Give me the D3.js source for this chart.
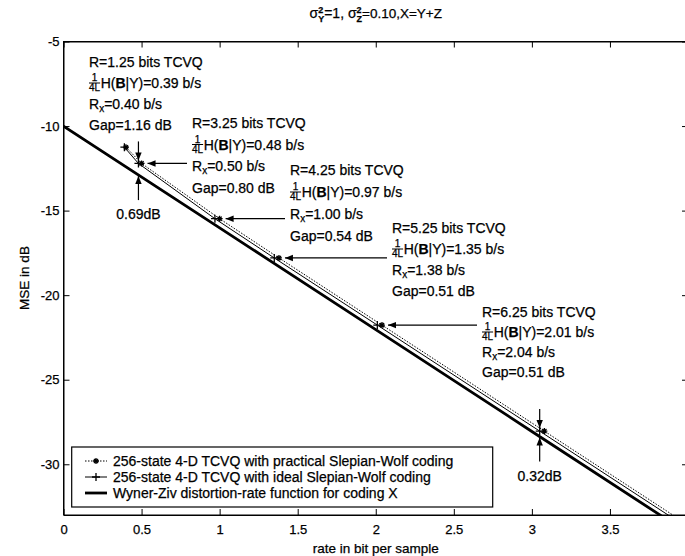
<!DOCTYPE html>
<html><head><meta charset="utf-8">
<script src="https://cdn.jsdelivr.net/npm/d3@7"></script>
<style>
body{margin:0;background:#fff}
text{font-family:"Liberation Sans",Arial,Helvetica,sans-serif;fill:#000;stroke:#000;stroke-width:0.25px}
</style></head><body><svg id="c" width="685" height="556"></svg>
<script>
// ---------- data ----------
const xTicks=[0,0.5,1,1.5,2,2.5,3,3.5,4];
const xTickLabels=["0","0.5","1","1.5","2","2.5","3","3.5",""];
const yTicks=[-5,-10,-15,-20,-25,-30];
const yTickLabels=["-5","-10","-15","-20","-25","-30"];
const wzRate=[0,1,2,3,4];
const wzMSE=[-10,-16.02,-22.04,-28.06,-34.08];
const practicalRate=[0.40,0.50,1.00,1.38,2.04,3.08,4.08];
const idealRate=[0.39,0.48,0.97,1.35,2.01,3.05,4.05];
const tcvqMSE=[-11.25,-12.21,-15.48,-17.80,-21.77,-28.04,-34.07];
const codeRate=[1.25,3.25,4.25,5.25,6.25];
const hRate=[0.39,0.48,0.97,1.35,2.01];
const rxRate=[0.40,0.50,1.00,1.38,2.04];
const gapDB=[1.16,0.80,0.54,0.51,0.51];
const gapMarkRate=[0.48,3.05];
const gapMarkUpper=[-12.21,-28.04];
const gapMarkDB=[0.69,0.32];
const legendLabels=["256-state 4-D TCVQ with practical Slepian-Wolf coding",
  "256-state 4-D TCVQ with ideal Slepian-Wolf coding",
  "Wyner-Ziv distortion-rate function for coding X"];
const xLabel="rate in bit per sample", yLabel="MSE in dB";

// ---------- layout ----------
const L=63.5,R=688,T=41.5,B=515;
const x=d3.scaleLinear([0,4],[L,R]);
const y=d3.scaleLinear([-33,-5],[B,T]);
const svg=d3.select("#c");
svg.append("rect").attr("width",685).attr("height",556).attr("fill","#fff");
svg.append("clipPath").attr("id","clip").append("rect")
  .attr("x",L).attr("y",T).attr("width",R-L).attr("height",B-T);

// axes
const xf=(d,i)=>xTickLabels[i], yf=(d,i)=>yTickLabels[i];
svg.append("g").attr("transform",`translate(0,${B})`)
  .call(d3.axisBottom(x).tickValues(xTicks).tickFormat(xf).tickSizeInner(-6).tickSizeOuter(0).tickPadding(10));
svg.append("g").attr("transform",`translate(0,${T})`)
  .call(d3.axisTop(x).tickValues(xTicks).tickFormat("").tickSizeInner(-6).tickSizeOuter(0));
svg.append("g").attr("transform",`translate(${L},0)`)
  .call(d3.axisLeft(y).tickValues(yTicks).tickFormat(yf).tickSizeInner(-6).tickSizeOuter(0).tickPadding(4));
svg.append("g").attr("transform",`translate(${R},0)`)
  .call(d3.axisRight(y).tickValues(yTicks).tickFormat("").tickSizeInner(-6).tickSizeOuter(0));
svg.selectAll(".tick text").attr("font-size",13).attr("font-family",'"Liberation Sans",Arial,sans-serif');
svg.selectAll(".tick line,.domain").attr("stroke","#000");
svg.append("rect").attr("x",L).attr("y",T).attr("width",R-L).attr("height",B-T)
  .attr("fill","none").attr("stroke","#000");

// labels
svg.append("text").attr("x",(L+R)/2).attr("y",553).attr("text-anchor","middle").attr("font-size",13.5).text(xLabel);
svg.append("text").attr("transform","translate(29,278) rotate(-90)").attr("text-anchor","middle").attr("font-size",13.5).text(yLabel);

// rich text helper
function rich(g,x0,yb,parts,size){
  let cx=x0;
  parts.forEach(p=>{
    if(p.frac){
      const fs=10;
      const t1=g.append("text").attr("y",yb-7).attr("font-size",fs).text(p.num);
      const t2=g.append("text").attr("x",cx).attr("y",yb+3).attr("font-size",fs).text(p.den);
      const w1=t1.node().getComputedTextLength(), w2=t2.node().getComputedTextLength();
      const w=Math.max(w1,w2);
      t1.attr("x",cx+(w-w1)/2);
      g.append("line").attr("x1",cx).attr("x2",cx+w).attr("y1",yb-5).attr("y2",yb-5).attr("stroke","#000").attr("stroke-width",1);
      cx+=w+0.5;
    } else if(p.sup!==undefined||p.sub!==undefined){
      let w=0;
      if(p.sup!==undefined){const t=g.append("text").attr("x",cx).attr("y",yb-5).attr("font-size",p.fs||9).attr("font-weight","bold").text(p.sup);w=Math.max(w,t.node().getComputedTextLength());}
      if(p.sub!==undefined){const t=g.append("text").attr("x",cx).attr("y",yb+(p.subDy||4)).attr("font-size",p.fs||9).attr("font-weight",p.subBold?"bold":null).text(p.sub);w=Math.max(w,t.node().getComputedTextLength());}
      cx+=w+(p.after||0);
    } else {
      const t=g.append("text").attr("x",cx).attr("y",yb).attr("font-size",p.size||size)
        .attr("font-weight",p.bold?"bold":null).text(p.t);
      cx+=t.node().getComputedTextLength();
    }
  });
  return cx-x0;
}

// title
const tg=svg.append("g");
const tw=rich(tg,0,18,[{t:"σ",size:14},{sup:"2",sub:"Y",subBold:true,subDy:4},{t:"=1, σ",size:14},{sup:"2",sub:"Z",subBold:true,subDy:4},{t:"=0.10,X=Y+Z"}],13.5);
tg.attr("transform",`translate(${(L+R)/2-tw/2},0)`);

// lines
const plot=svg.append("g").attr("clip-path","url(#clip)");
const line=d3.line().x(d=>x(d[0])).y(d=>y(d[1]));
const wz=wzRate.map((r,i)=>[r,wzMSE[i]]);
const ideal=idealRate.map((r,i)=>[r,tcvqMSE[i]]);
const prac=practicalRate.map((r,i)=>[r,tcvqMSE[i]]);
plot.append("path").attr("d",line(wz)).attr("fill","none").attr("stroke","#000").attr("stroke-width",2.8);
plot.append("path").attr("d",line(ideal)).attr("fill","none").attr("stroke","#000").attr("stroke-width",1);
plot.append("path").attr("d",line(prac)).attr("fill","none").attr("stroke","#000").attr("stroke-width",1).attr("stroke-dasharray","1.5,1.5");
const plusPath="M-4,0H4M0,-4V4";
const starPath="M-3,0H3M0,-3V3M-2.1,-2.1L2.1,2.1M-2.1,2.1L2.1,-2.1";
plot.selectAll(".pi").data(ideal).join("path").attr("d",plusPath)
  .attr("transform",d=>`translate(${x(d[0])},${y(d[1])})`).attr("stroke","#000").attr("stroke-width",1.3);
plot.selectAll(".pp").data(prac).join("path").attr("d",starPath)
  .attr("transform",d=>`translate(${x(d[0])},${y(d[1])})`).attr("stroke","#000").attr("stroke-width",1.3);

// arrows
function arrow(x1,y1,x2,y2){
  svg.append("line").attr("x1",x1).attr("y1",y1).attr("x2",x2).attr("y2",y2).attr("stroke","#000").attr("stroke-width",1.2);
  const a=Math.atan2(y2-y1,x2-x1), len=8, hw=3.2;
  const bx=x2-len*Math.cos(a), by=y2-len*Math.sin(a);
  const px=-Math.sin(a)*hw, py=Math.cos(a)*hw;
  svg.append("path").attr("d",`M${x2},${y2}L${bx+px},${by+py}L${bx-px},${by-py}Z`).attr("fill","#000");
}

// annotation blocks
const blockPos=[[89,67,21],[192,128,21.5],[290,175,22],[392,233,21],[482,317,20]];
codeRate.forEach((cr,i)=>{
  const [bx,by,sp]=blockPos[i];
  const g=svg.append("g");
  rich(g,bx,by,[{t:`R=${cr.toFixed(2)} bits TCVQ`}],14);
  rich(g,bx,by+sp,[{frac:true,num:"1",den:"4L"},{t:"H("},{t:"B",bold:true},{t:`|Y)=${hRate[i].toFixed(2)} b/s`}],14);
  rich(g,bx,by+2*sp,[{t:"R"},{sub:"x",fs:10,subDy:3},{t:`=${rxRate[i].toFixed(2)} b/s`}],14);
  rich(g,bx,by+3*sp,[{t:`Gap=${gapDB[i].toFixed(2)} dB`}],14);
  if(i>0){
    const py=y(tcvqMSE[i]);
    arrow(bx-5,py,x(rxRate[i])+6,py);
  }
});

// gap marks
gapMarkRate.forEach((r,i)=>{
  const xp=x(r), yu=y(gapMarkUpper[i]), yl=y(gapMarkUpper[i]-gapMarkDB[i]);
  arrow(xp,yu-22,xp,yu-3);
  arrow(xp,yl+25,xp,yl+1);
  svg.append("text").attr("x",xp).attr("y",yl+44).attr("text-anchor","middle").attr("font-size",14)
    .text(gapMarkDB[i].toFixed(2)+"dB");
});

// legend
const lg=svg.append("g");
lg.append("rect").attr("x",71.7).attr("y",447).attr("width",421).attr("height",60)
  .attr("fill","#fff").attr("stroke","#000").attr("stroke-width",1.2);
const rowY=[461,477,493];
legendLabels.forEach((lab,i)=>{
  const yy=rowY[i];
  const ln=lg.append("line").attr("x1",85).attr("x2",107).attr("y1",yy).attr("y2",yy).attr("stroke","#000");
  if(i===0){ln.attr("stroke-width",1).attr("stroke-dasharray","1.5,1.5");
    lg.append("path").attr("d",starPath).attr("transform",`translate(96,${yy})`).attr("stroke","#000").attr("stroke-width",1.3);}
  if(i===1){ln.attr("stroke-width",1);
    lg.append("path").attr("d",plusPath).attr("transform",`translate(96,${yy})`).attr("stroke","#000").attr("stroke-width",1.3);}
  if(i===2){ln.attr("stroke-width",2.8);}
  lg.append("text").attr("x",113).attr("y",yy).attr("dy","0.35em").attr("font-size",14).text(lab);
});
</script></body></html>
